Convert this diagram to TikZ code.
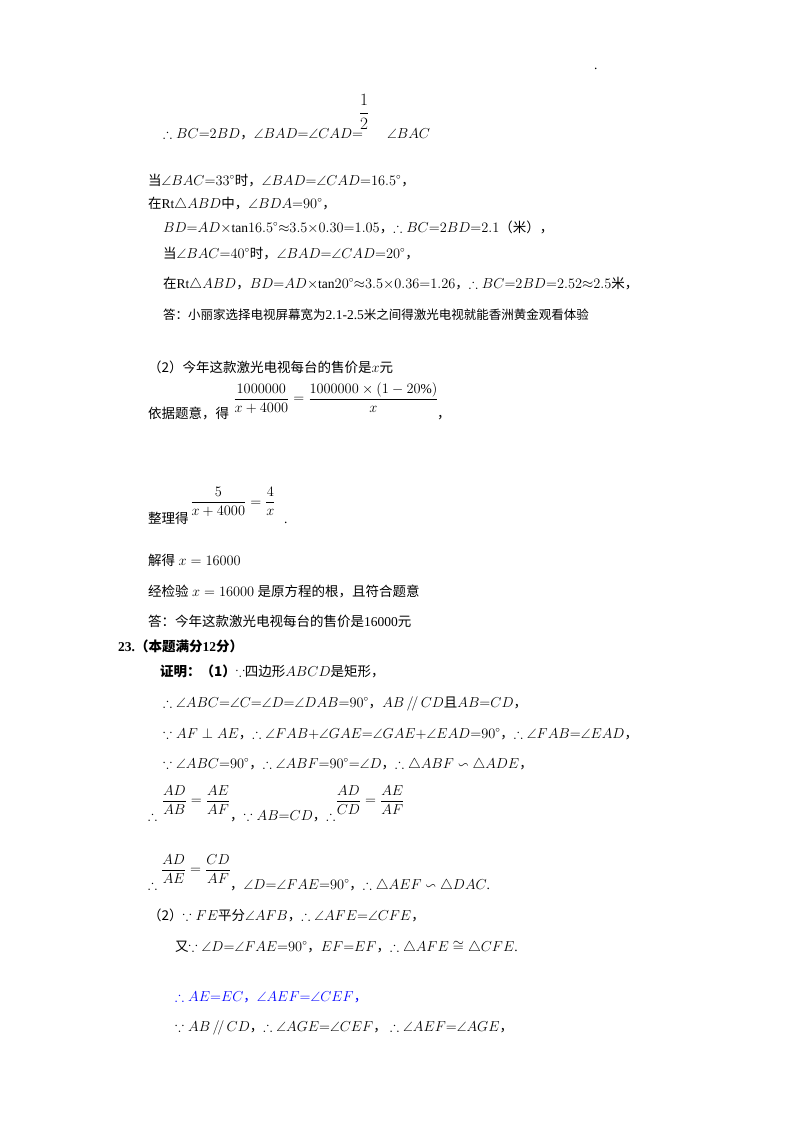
\documentclass[tikz,border=0pt]{standalone}
\usepackage{amsmath,amssymb}
\usepackage{fontspec}
\setmainfont{Liberation Serif}
\newfontfamily\cjk{Noto Sans CJK SC}
\newcommand\zh[1]{{\cjk #1}}
\usetikzlibrary{positioning}
\begin{document}
\begin{tikzpicture}[x=1pt, y=-1pt,
  line/.style={anchor=base west, inner sep=0pt, font=\fontsize{13.5}{16}\selectfont},
  frac/.style={anchor=center, inner sep=0pt, font=\fontsize{13.5}{16}\selectfont}]
\useasboundingbox (0,0) rectangle (800,1132);
\node[line] (dot) at (594,70) {.};
% part (1) continued
\node[frac] (half) at (364,112) {\fontsize{16}{18}\selectfont$\dfrac{1}{2}$};
\node[line] (l1) at (163,138) {$\therefore BC{=}2BD$\zh{，}$\angle BAD{=}\angle CAD{=}\hspace{24pt}\angle BAC$};
\node[line] (l2) at (148,185) {\zh{当}$\angle BAC{=}33^\circ$\zh{时，}$\angle BAD{=}\angle CAD{=}16.5^\circ$\zh{，}};
\node[line] (l3) at (148,208) {\zh{在}Rt$\triangle ABD$\zh{中，}$\angle BDA{=}90^\circ$\zh{，}};
\node[line] (l4) at (163,232) {$BD{=}AD{\times}\mathrm{tan}16.5^\circ{\approx}3.5{\times}0.30{=}1.05$\zh{，}$\therefore BC{=}2BD{=}2.1$\zh{（米），}};
\node[line] (l5) at (163,258) {\zh{当}$\angle BAC{=}40^\circ$\zh{时，}$\angle BAD{=}\angle CAD{=}20^\circ$\zh{，}};
\node[line] (l6) at (163,288) {\zh{在}Rt$\triangle ABD$\zh{，}$BD{=}AD{\times}\mathrm{tan}20^\circ{\approx}3.5{\times}0.36{=}1.26$\zh{，}$\therefore BC{=}2BD{=}2.52{\approx}2.5$\zh{米，}};
\node[line] (l7) at (163,319) {\zh{\fontsize{12.5}{15}\selectfont 答：小丽家选择电视屏幕宽为}2.1-2.5\zh{\fontsize{12.5}{15}\selectfont 米之间得激光电视就能香洲黄金观看体验}};
% part (2)
\node[line] (m1) at (148,372) {\zh{（2）今年这款激光电视每台的售价是}$x$\zh{元}};
\node[line] (m2) at (148,418) {\zh{依据题意，得}};
\node[frac] (eq1) at (336,398) {$\dfrac{1000000}{x+4000}=\dfrac{1000000\times(1-20\%)}{x}$};
\node[line] (m2c) at (437,418) {\zh{，}};
\node[line] (m3) at (148,523) {\zh{整理得}};
\node[frac] (eq2) at (233,502) {$\dfrac{5}{x+4000}=\dfrac{4}{x}$};
\node[line] (m3d) at (284,523) {.};
\node[line] (m4) at (148,565) {\zh{解得} $x=16000$};
\node[line] (m5) at (148,596) {\zh{经检验} $x=16000$ \zh{是原方程的根，且符合题意}};
\node[line] (m6) at (148,626) {\zh{答：今年这款激光电视每台的售价是}16000\zh{元}};
% question 23
\node[line] (q) at (118,651) {\bfseries 23.\zh{（本题满分}12\zh{分）}};
\node[line] (p1) at (160,676) {\zh{\bfseries 证明：（1）}$\because$\zh{四边形}$ABCD$\zh{是矩形，}};
\node[line] (p2) at (163,707) {$\therefore\angle ABC{=}\angle C{=}\angle D{=}\angle DAB{=}90^\circ$\zh{，}$AB\,/\!/\,CD$\zh{且}$AB{=}CD$\zh{，}};
\node[line] (p3) at (163,738) {$\because AF\perp AE$\zh{，}$\therefore\angle FAB{+}\angle GAE{=}\angle GAE{+}\angle EAD{=}90^\circ$\zh{，}$\therefore\angle FAB{=}\angle EAD$\zh{，}};
\node[line] (p4) at (163,768) {$\because\angle ABC{=}90^\circ$\zh{，}$\therefore\angle ABF{=}90^\circ{=}\angle D$\zh{，}$\therefore\triangle ABF\backsim\triangle ADE$\zh{，}};
\node[line] (p5) at (148,820) {$\therefore$};
\node[frac] (f1) at (196,800) {$\dfrac{AD}{AB}=\dfrac{AE}{AF}$};
\node[line] (p5b) at (230,820) {\zh{，}$\because AB{=}CD$\zh{，}$\therefore$};
\node[frac] (f2) at (370,800) {$\dfrac{AD}{CD}=\dfrac{AE}{AF}$};
\node[line] (p6) at (148,889) {$\therefore$};
\node[frac] (f3) at (196,869) {$\dfrac{AD}{AE}=\dfrac{CD}{AF}$};
\node[line] (p6b) at (230,889) {\zh{，}$\angle D{=}\angle FAE{=}90^\circ$\zh{，}$\therefore\triangle AEF\backsim\triangle DAC$.};
\node[line] (r1) at (148,920) {\zh{（2）}$\because FE$\zh{平分}$\angle AFB$\zh{，}$\therefore\angle AFE{=}\angle CFE$\zh{，}};
\node[line] (r2) at (175,951) {\zh{又}$\because\angle D{=}\angle FAE{=}90^\circ$\zh{，}$EF{=}EF$\zh{，}$\therefore\triangle AFE\cong\triangle CFE$.};
\node[line, text=blue] (r3) at (175,1001) {$\therefore AE{=}EC$\zh{，}$\angle AEF{=}\angle CEF$\zh{，}};
\node[line] (r4) at (175,1031) {$\because AB\,/\!/\,CD$\zh{，}$\therefore\angle AGE{=}\angle CEF$\zh{，} $\therefore\angle AEF{=}\angle AGE$\zh{，}};
\end{tikzpicture}
\end{document}
